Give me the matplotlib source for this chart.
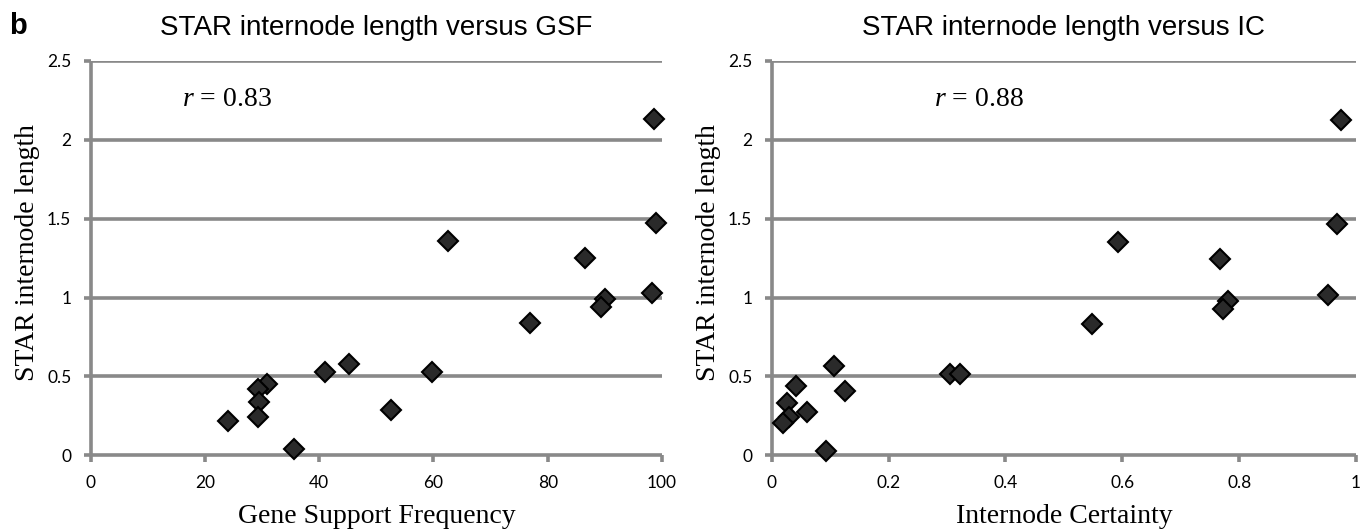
import matplotlib
matplotlib.use("Agg")
import matplotlib.pyplot as plt

plt.rcParams["mathtext.fontset"] = "custom"
plt.rcParams["mathtext.it"] = "Liberation Serif:italic"
plt.rcParams["mathtext.rm"] = "Liberation Serif"

# ---- data ----
gsf = [98.6, 98.9, 62.5, 86.5, 98.3, 90.1, 89.3, 76.9, 45.3, 41.0, 59.8,
       30.8, 29.2, 29.5, 29.2, 24.1, 52.5, 35.6]
len_gsf = [2.13, 1.47, 1.36, 1.25, 1.03, 0.99, 0.94, 0.84, 0.58, 0.53, 0.53,
           0.45, 0.42, 0.335, 0.245, 0.22, 0.29, 0.04]

ic = [0.975, 0.967, 0.592, 0.767, 0.952, 0.781, 0.773, 0.548, 0.107, 0.305,
      0.323, 0.041, 0.125, 0.026, 0.060, 0.030, 0.020, 0.093]
len_ic = [2.126, 1.464, 1.352, 1.242, 1.019, 0.98, 0.926, 0.832, 0.565, 0.518,
          0.518, 0.438, 0.406, 0.331, 0.275, 0.245, 0.202, 0.028]

titles = ["STAR internode length versus GSF", "STAR internode length versus IC"]
xlabels = ["Gene Support Frequency", "Internode Certainty"]
ylabel = "STAR internode length"
r_texts = ["0.83", "0.88"]
xticks_gsf = [0, 20, 40, 60, 80, 100]
xticks_ic = [0, 0.2, 0.4, 0.6, 0.8, 1]
xticklabels_ic = ["0", "0.2", "0.4", "0.6", "0.8", "1"]
yticks = [0, 0.5, 1, 1.5, 2, 2.5]
yticklabels = ["0", "0.5", "1", "1.5", "2", "2.5"]

W, H = 1370, 530
fig = plt.figure(figsize=(W / 100, H / 100), dpi=100)

GRID = "#898989"
serif = ["Liberation Serif", "DejaVu Serif"]
sans = ["Liberation Sans", "DejaVu Sans"]
tickfont = ["Lato", "DejaVu Sans"]

y0_px, y1_px = 455.3, 61.0
panels = [
    dict(x0=90.7, x1=662.0, x=gsf, y=len_gsf, xlim=(0, 100), xticks=xticks_gsf,
         xtl=[str(v) for v in xticks_gsf], rx=16.0, ylab_px=34),
    dict(x0=771.7, x1=1356.0, x=ic, y=len_ic, xlim=(0, 1), xticks=xticks_ic,
         xtl=xticklabels_ic, rx=0.277, ylab_px=715),
]

for i, p in enumerate(panels):
    ax = fig.add_axes([p["x0"] / W, 1 - y0_px / H, (p["x1"] - p["x0"]) / W,
                       (y0_px - y1_px) / H])
    ax.set_xlim(*p["xlim"])
    ax.set_ylim(0, 2.5)
    for s in ["top", "right"]:
        ax.spines[s].set_visible(False)
    for s in ["left", "bottom"]:
        ax.spines[s].set_color(GRID)
        ax.spines[s].set_linewidth(2.6)
        ax.spines[s].set_capstyle("butt")
    ax.set_yticks(yticks)
    ax.set_yticklabels(yticklabels, family=tickfont, fontsize=12.5)
    ax.set_xticks(p["xticks"])
    ax.set_xticklabels(p["xtl"], family=tickfont, fontsize=12.5)
    ax.tick_params(axis="both", direction="out", length=5, width=2.6, color=GRID)
    ax.tick_params(axis="y", pad=9)
    ax.tick_params(axis="x", pad=9)
    for yv in yticks[1:]:
        ax.axhline(yv, color=GRID, lw=2.6, zorder=1, solid_capstyle="butt")
    ax.plot(p["x"], p["y"], linestyle="none", marker="D", markersize=10,
            markerfacecolor="#2a2a2a", markeredgecolor="black",
            markeredgewidth=1.5, zorder=3, clip_on=False)
    ax.set_xlabel(xlabels[i], family=serif, fontsize=20)
    ax.xaxis.label.set_va("baseline")
    ax.xaxis.set_label_coords(0.5, (y0_px - 523) / (y0_px - y1_px))
    ax.set_ylabel(ylabel, family=serif, fontsize=20)
    ax.yaxis.label.set_va("baseline")
    ax.yaxis.set_label_coords(-(p["x0"] - p["ylab_px"]) / (p["x1"] - p["x0"]), 0.513)
    ax.text(p["rx"], (y0_px - 106) / (y0_px - y1_px) * 2.5,
            "$\\mathit{r}$ = " + r_texts[i],
            family=serif, fontsize=20, va="baseline", ha="left")
    fig.text((p["x0"] + p["x1"]) / 2 / W, 1 - 35 / H, titles[i], family=sans,
             fontsize=20, ha="center", va="baseline")

fig.text(9 / W, 1 - 34 / H, "b", family=sans, fontsize=21, fontweight="bold",
         ha="left", va="baseline")

fig.savefig("out.png", dpi=100)
